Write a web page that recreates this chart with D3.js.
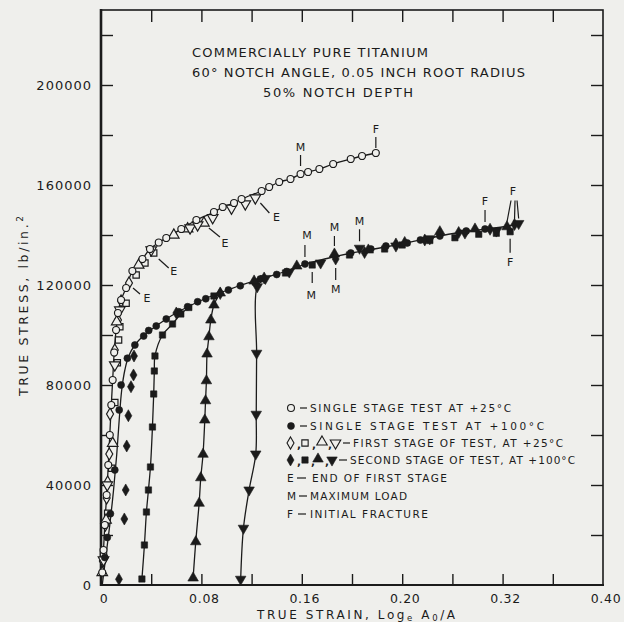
<!doctype html>
<html lang="en">
<head>
  <meta charset="utf-8">
  <script src="https://cdn.jsdelivr.net/npm/d3@7"></script>
</head>

<style>
    body {
        margin: 0;
        background-color: #efefec;
    }

    svg {
        display: block;
        font-family: "DejaVu Sans", Verdana, sans-serif;
    }
</style>

<body>
  <svg id="chart" width="624" height="622"></svg>
</body>

<script>

    // axis labels
    let yLabels = [0, 40000, 80000, 120000, 160000, 200000]
    let xLabelAt = [0, 0.08, 0.16, 0.24, 0.32, 0.40]
    let xLabelText = ['0', '0.08', '0.16', '0.20', '0.32', '0.40']   // printed as on the original

    let titleLines = ['COMMERCIALLY PURE TITANIUM',
                      '60\u00b0 NOTCH ANGLE, 0.05 INCH ROOT RADIUS',
                      '50% NOTCH DEPTH']

    // [true strain, true stress psi]
    // single stage test at +25C (open circles)
    let single25 = [[0.001,5000],[0.002,14000],[0.003,24000],[0.0045,36000],[0.0058,48000],[0.007,60000],
        [0.0082,72000],[0.0093,82000],[0.0105,93000],[0.012,102000],[0.0135,108800],[0.016,114000],
        [0.020,118800],[0.025,125600],[0.033,130400],[0.039,134400],[0.046,137000],[0.052,138800],
        [0.064,142400],[0.076,146000],[0.090,149200],[0.097,151200],[0.106,152800],[0.112,154400],
        [0.128,157600],[0.134,159200],[0.142,161200],[0.151,162400],[0.159,164400],[0.165,165200],
        [0.174,166400],[0.185,168400],[0.199,170400],[0.208,171600],[0.219,172800]]

    // single stage test at +100C (filled circles)
    let single100 = [[0.003,11000],[0.005,19000],[0.0075,28500],[0.011,46000],[0.0145,70000],[0.016,80000],
        [0.021,90700],[0.027,96000],[0.034,99600],[0.038,101800],[0.044,103600],[0.052,106400],
        [0.062,109300],[0.069,111300],[0.077,113300],[0.0835,114500],[0.1015,118000],[0.111,119700],
        [0.127,122400],[0.14,124200],[0.148,125400],[0.1625,128400],[0.199,132800],[0.215,134400],
        [0.227,135600],[0.244,136800],[0.2545,138000],[0.270,139600],[0.291,141600],[0.306,142400]]

    // faired curves as drawn through the points
    let curve25 = [[0,0]].concat(single25)
    let curve100 = [[0.001,0],[0.004,12000],[0.007,24000],[0.010,38000],[0.0125,52000],[0.0145,66000],
        [0.0165,78000],[0.019,86000],[0.022,91500],[0.027,96000],[0.034,99800],[0.044,103600],
        [0.052,106400],[0.062,109400],[0.077,113200],[0.09,116000],[0.101,118000],[0.111,119800],
        [0.127,122400],[0.148,125600],[0.163,128400],[0.18,130600],[0.2,132800],[0.22,134600],
        [0.245,137000],[0.27,139600],[0.29,141400],[0.31,142600],[0.322,143400],[0.334,144600]]

    // first stage at +25C (open)
    let first1 = [[0.0015,9600],[0.0035,24000],[0.0045,34800],[0.0053,41200],[0.0066,52400],[0.0072,68400],
        [0.011,94000],[0.0135,106000],[0.016,113600],[0.0223,120800]]
    let first2 = [[0.002,12000],[0.0053,28700],[0.0085,46700],[0.011,73000],[0.013,88900],[0.014,98000],
        [0.015,103300],[0.020,112700],[0.028,124000],[0.035,128800],[0.042,132800]]
    let first3 = [[0.001,5000],[0.004,26000],[0.0093,56700],[0.0125,105300],[0.030,128000],[0.058,140000],
        [0.069,142500],[0.082,144800]]
    let first4 = [[0.002,10000],[0.005,40000],[0.011,88000],[0.015,110000],[0.040,134000],[0.071,142800],
        [0.077,144000],[0.089,146900],[0.104,150700],[0.115,152400],[0.123,154800]]

    // second stage at +100C (filled)
    let second1 = [[0.0143,2300],[0.0186,26400],[0.0197,38000],[0.0205,55600],[0.0218,67700],[0.0239,79300],
        [0.0259,84000],[0.0263,91600],[0.06,108800],[0.095,116600],[0.13,122800],[0.187,130400],
        [0.21,133000],[0.235,136400],[0.258,138000],[0.285,141000],[0.31,142300],[0.3295,144200]]
    let second2 = [[0.0326,2400],[0.0346,16000],[0.0362,29200],[0.0378,38000],[0.0394,47200],[0.041,63200],
        [0.042,76400],[0.0425,85600],[0.043,91600],[0.049,100000],[0.057,104400],[0.0636,108400],
        [0.070,111000],[0.090,115600],[0.123,121200],[0.147,124800],[0.1683,128000],[0.198,132000],
        [0.226,134400],[0.240,136000],[0.262,137800],[0.282,138900],[0.301,140300],[0.315,140700],
        [0.326,141300]]
    let second3 = [[0.0734,2800],[0.0755,17300],[0.0782,32700],[0.0795,42900],[0.0813,52300],[0.0827,66000],
        [0.0833,73700],[0.084,81700],[0.0845,92400],[0.086,99300],[0.0875,106000],[0.090,112000],
        [0.095,116800],[0.122,121600],[0.156,127600],[0.186,132400],[0.213,134000],[0.242,137000],
        [0.270,141300],[0.298,142400],[0.3235,143300]]
    let second4 = [[0.1113,2300],[0.1135,22700],[0.118,38000],[0.1233,52400],[0.1237,68300],[0.124,92700],
        [0.1245,119300],[0.131,122600],[0.15,125200],[0.175,128800],[0.206,134700],
        [0.235,135600],[0.262,138500],[0.29,140800],[0.315,141600],[0.3328,144600]]

    let ink = '#1b1b1b'
    let paper = '#efefec'

    let svg = d3.select('#chart')

    let x = d3.scaleLinear().domain([0, 0.40]).range([101, 603])
    let y = d3.scaleLinear().domain([0, 230000]).range([585, 10])

    // ---- frame and ticks
    let tickY = d3.range(20000, 220001, 20000)
    let tickX = d3.range(1, 10).map(i => i * 0.04)

    svg.append('g').attr('transform', 'translate(101,0)')
        .call(d3.axisLeft(y).tickValues(tickY).tickSize(-12).tickFormat(''))
    svg.append('g').attr('transform', 'translate(603,0)')
        .call(d3.axisRight(y).tickValues(tickY).tickSize(-12).tickFormat(''))
    svg.append('g').attr('transform', 'translate(0,10)')
        .call(d3.axisTop(x).tickValues(tickX).tickSize(-12).tickFormat(''))
    svg.append('g').attr('transform', 'translate(0,585)')
        .call(d3.axisBottom(x).tickValues(tickX).tickSize(-11).tickFormat(''))

    svg.selectAll('.domain').remove()
    svg.selectAll('.tick line').attr('stroke', ink).attr('stroke-width', 1.4)

    let frame = svg.append('g').attr('stroke', ink).attr('fill', 'none')
    frame.append('rect').attr('x', 101).attr('y', 10).attr('width', 502).attr('height', 575).attr('stroke-width', 1.6)
    frame.append('line').attr('x1', 101).attr('x2', 101).attr('y1', 9).attr('y2', 586).attr('stroke-width', 2.6)
    frame.append('line').attr('x1', 100).attr('x2', 604).attr('y1', 585).attr('y2', 585).attr('stroke-width', 2.2)

    svg.selectAll('.ylab')
        .data(yLabels)
        .enter().append('text')
        .attr('x', 92).attr('y', d => y(d) + 5)
        .attr('text-anchor', 'end')
        .attr('font-size', 13).attr('letter-spacing', 1)
        .attr('fill', ink)
        .text(d => d)

    svg.selectAll('.xlab')
        .data(xLabelAt)
        .enter().append('text')
        .attr('x', d => x(d) + 3).attr('y', 603)
        .attr('text-anchor', 'middle')
        .attr('font-size', 12.5).attr('letter-spacing', 0.7)
        .attr('fill', ink)
        .text((d, i) => xLabelText[i])

    // axis titles
    let xt = svg.append('text').attr('x', 257).attr('y', 619)
        .attr('font-size', 12).attr('fill', ink)
        .attr('textLength', 198).attr('lengthAdjust', 'spacing')
    xt.append('tspan').text('TRUE STRAIN, Log')
    xt.append('tspan').attr('font-size', 8.5).attr('dy', 2).text('e')
    xt.append('tspan').attr('dy', -2).text(' A')
    xt.append('tspan').attr('font-size', 8.5).attr('dy', 2).text('0')
    xt.append('tspan').attr('dy', -2).text('/A')

    let yt = svg.append('text')
        .attr('transform', 'translate(28,306) rotate(-90)')
        .attr('text-anchor', 'middle')
        .attr('font-size', 12.5).attr('fill', ink)
        .attr('textLength', 180).attr('lengthAdjust', 'spacing')
    yt.append('tspan').text('TRUE STRESS, lb/in.')
    yt.append('tspan').attr('font-size', 9).attr('dy', -5).text('2')

    // title block
    let titleX = [192, 192, 263], titleY = [57, 77, 97], titleW = [236, 333, 150]
    svg.selectAll('.title')
        .data(titleLines)
        .enter().append('text')
        .attr('x', (d, i) => titleX[i]).attr('y', (d, i) => titleY[i])
        .attr('font-size', 13).attr('fill', ink)
        .attr('textLength', (d, i) => titleW[i]).attr('lengthAdjust', 'spacing')
        .text(d => d)

    // ---- curves
    let line = d3.line()
        .x(d => x(d[0])).y(d => y(d[1]))
        .curve(d3.curveCatmullRom.alpha(0.5))

    let curves = [
        curve25,
        curve100,
        second2.filter(d => d[0] <= 0.0701),
        second3.filter(d => d[0] <= 0.0951),
        second4.filter(d => d[0] <= 0.1311)
    ]
    svg.append('g').selectAll('path')
        .data(curves)
        .enter().append('path')
        .attr('d', line)
        .attr('fill', 'none')
        .attr('stroke', ink)
        .attr('stroke-width', 1.3)

    // ---- markers
    let shapes = {
        circle: d3.symbol().type(d3.symbolCircle).size(38)(),
        square: d3.symbol().type(d3.symbolSquare).size(40)(),
        diamond: d3.symbol().type(d3.symbolDiamond).size(42)(),
        triangle: d3.symbol().type(d3.symbolTriangle).size(48)()
    }

    let drawMarks = (data, shape, filled, flip) => {
        svg.append('g').selectAll('path')
            .data(data)
            .enter().append('path')
            .attr('d', shapes[shape])
            .attr('transform', d => 'translate(' + x(d[0]) + ',' + y(d[1]) + ')' + (flip ? ' rotate(180)' : ''))
            .attr('fill', filled ? ink : paper)
            .attr('stroke', ink)
            .attr('stroke-width', filled ? 0.6 : 1.2)
    }

    drawMarks(first1, 'diamond', false)
    drawMarks(first2, 'square', false)
    drawMarks(first3, 'triangle', false)
    drawMarks(first4, 'triangle', false, true)
    drawMarks(single25, 'circle', false)

    drawMarks(single100, 'circle', true)
    drawMarks(second1, 'diamond', true)
    drawMarks(second2, 'square', true)
    drawMarks(second3, 'triangle', true)
    drawMarks(second4, 'triangle', true, true)

    // ---- E / M / F notes: label offset and tick offsets from the marked point
    let notes = svg.append('g')

    let note = (pt, label, lx, ly, t) => {
        let px = x(pt[0]), py = y(pt[1])
        notes.append('line')
            .attr('x1', px + t[0]).attr('y1', py + t[1])
            .attr('x2', px + t[2]).attr('y2', py + t[3])
            .attr('stroke', ink).attr('stroke-width', 1.2)
        notes.append('text')
            .attr('x', px + lx).attr('y', py + ly + 4)
            .attr('text-anchor', 'middle')
            .attr('font-size', 11).attr('fill', ink)
            .text(label)
    }

    let last = a => a[a.length - 1]
    let at = (a, s) => a.find(d => d[0] == s)

    note(last(first1), 'E', 18, 15, [4, 5, 11, 11])
    note(last(first2), 'E', 20, 18, [5, 6, 15, 15])
    note(last(first3), 'E', 21, 20, [5, 5, 16, 14])
    note(last(first4), 'E', 21, 19, [5, 5, 14, 15])

    note(at(single25, 0.159), 'M', 0, -27, [0, -19, 0, -8])
    note(at(single100, 0.1625), 'M', 2, -29, [0, -19, 0, -7])
    note(at(second3, 0.186), 'M', 0, -27, [0, -18, 0, -8])
    note(at(second4, 0.206), 'M', 0, -27, [0, -19, 0, -7])
    note(at(second2, 0.1683), 'M', -1, 30, [0, 7, 0, 18])
    note(at(second1, 0.187), 'M', 0, 30, [0, 9, 0, 21])

    note(last(single25), 'F', 0, -24, [0, -16, 0, -5])
    note(last(single100), 'F', 0, -28, [0, -19, 0, -7])
    note(last(second2), 'F', 0, 30, [0, 7, 0, 21])

    // the three fractures sharing one F
    let fx = x(last(second1)[0]) - 1.5, fy = y(last(second1)[1]) - 34
    notes.append('text')
        .attr('x', fx).attr('y', fy + 4)
        .attr('text-anchor', 'middle')
        .attr('font-size', 11).attr('fill', ink)
        .text('F')
    let fStart = [-2, 2, 4]
    ;[second3, second1, second4].forEach((s, i) => {
        let p = last(s)
        notes.append('line')
            .attr('x1', fx + fStart[i]).attr('y1', fy + 10)
            .attr('x2', x(p[0])).attr('y2', y(p[1]) - 5)
            .attr('stroke', ink).attr('stroke-width', 1.2)
    })

    // ---- legend
    let legendRows = [
        'SINGLE STAGE TEST AT +25\u00b0C',
        'SINGLE  STAGE  TEST  AT  +100\u00b0C',
        'FIRST STAGE OF TEST, AT +25\u00b0C',
        'SECOND STAGE OF TEST, AT +100\u00b0C',
        'END OF FIRST STAGE',
        'MAXIMUM LOAD',
        'INITIAL FRACTURE'
    ]
    let legendY = [408, 426, 443, 460, 478, 496, 514]
    let legendX = [310, 310, 353, 350, 312, 310, 310]
    let legendW = [201, 234, 210, 225, 135, 97, 118]

    let lg = svg.append('g')
    lg.selectAll('text.row')
        .data(legendRows)
        .enter().append('text')
        .attr('x', (d, i) => legendX[i]).attr('y', (d, i) => legendY[i] + 4)
        .attr('font-size', 10.5).attr('fill', ink)
        .attr('textLength', (d, i) => legendW[i]).attr('lengthAdjust', 'spacing')
        .text(d => d)

    // dashes
    let dashX = [[300, 307], [300, 307], [343, 350], [339, 347], [297, 306], [299, 307], [298, 306]]
    lg.selectAll('line')
        .data(dashX)
        .enter().append('line')
        .attr('x1', d => d[0]).attr('x2', d => d[1])
        .attr('y1', (d, i) => legendY[i]).attr('y2', (d, i) => legendY[i])
        .attr('stroke', ink).attr('stroke-width', 1.2)

    let legendSym = [
        [291, 408, 'circle', false, false],
        [291, 426, 'circle', true, false],
        [290.5, 443, 'diamond', false, false], [305, 443, 'square', false, false],
        [322, 442, 'triangle', false, false], [335.5, 443, 'triangle', false, true],
        [290.5, 460, 'diamond', true, false], [305, 460, 'square', true, false],
        [318, 459, 'triangle', true, false], [332, 460, 'triangle', true, true]
    ]
    lg.selectAll('path')
        .data(legendSym)
        .enter().append('path')
        .attr('d', d => shapes[d[2]])
        .attr('transform', d => 'translate(' + d[0] + ',' + d[1] + ')' + (d[4] ? ' rotate(180)' : ''))
        .attr('fill', d => d[3] ? ink : paper)
        .attr('stroke', ink)
        .attr('stroke-width', d => d[3] ? 0.6 : 1.1)

    let commaX = [[297, 443], [312, 443], [328, 443], [297, 460], [311, 460], [325, 460]]
    lg.selectAll('text.comma')
        .data(commaX)
        .enter().append('text')
        .attr('x', d => d[0]).attr('y', d => d[1] + 5)
        .attr('font-size', 10.5).attr('font-weight', 'bold').attr('fill', ink)
        .text(',')

    let letterRows = [['E', 478], ['M', 496], ['F', 514]]
    lg.selectAll('text.letter')
        .data(letterRows)
        .enter().append('text')
        .attr('x', 287).attr('y', d => d[1] + 4)
        .attr('font-size', 10.5).attr('fill', ink)
        .text(d => d[0])

</script>

</html>
